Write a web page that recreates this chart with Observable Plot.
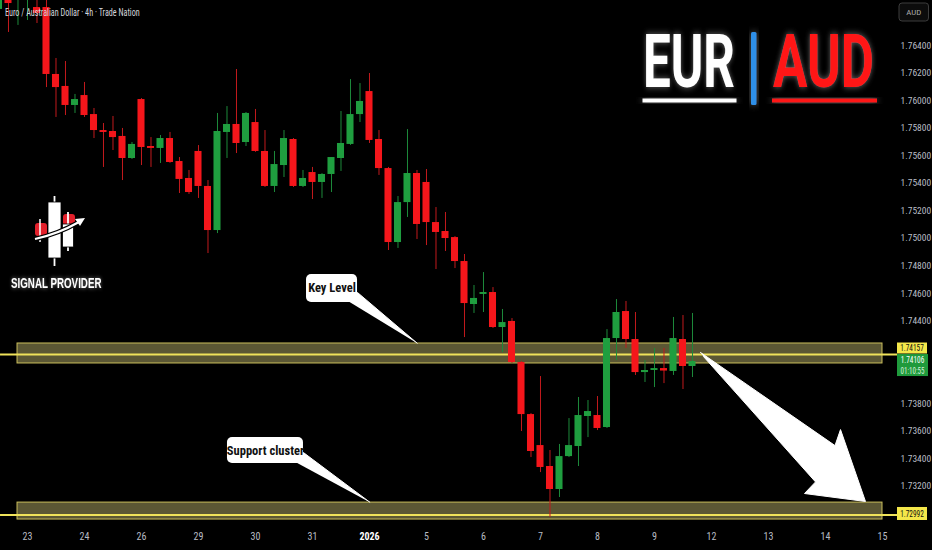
<!DOCTYPE html>
<html><head><meta charset="utf-8">
<script src="https://cdn.jsdelivr.net/npm/d3@7"></script>
<script src="https://cdn.jsdelivr.net/npm/@observablehq/plot@0.6"></script>
<style>html,body{margin:0;padding:0;background:#000;overflow:hidden}</style>
</head><body><div id="chart"></div>
<script>
// ---- data (4h candles, slot index 0 = first candle of Dec 23) ----
const firstSlot = -3;
const opens = [1.76662,1.76800,1.76763,1.76749,1.76676,1.76676,1.76190,1.76103,1.75965,1.76037,1.75899,1.75783,1.75776,1.75740,1.75580,1.76008,1.75667,1.75653,1.75725,1.75558,1.75435,1.75631,1.75377,1.75057,1.75769,1.75827,1.75696,1.75841,1.75631,1.75377,1.75529,1.75718,1.75377,1.75478,1.75406,1.75464,1.75580,1.75682,1.75899,1.76066,1.75718,1.75507,1.74970,1.75260,1.75471,1.75406,1.75115,1.75050,1.75006,1.74832,1.74520,1.74593,1.74607,1.74353,1.74397,1.74099,1.73721,1.73496,1.73344,1.73177,1.73416,1.73489,1.73707,1.73714,1.73627,1.74273,1.74469,1.74266,1.74026,1.74041,1.74055,1.74034,1.74266,1.74070];
const highs = [1.76908,1.76836,1.76872,1.76858,1.76763,1.76727,1.76306,1.76284,1.76045,1.76132,1.75943,1.75834,1.75885,1.75798,1.75696,1.76015,1.75732,1.75747,1.75769,1.75587,1.75493,1.75674,1.75420,1.75907,1.75957,1.76226,1.75914,1.75936,1.75783,1.75631,1.75783,1.75725,1.75493,1.75515,1.75470,1.75587,1.75921,1.76153,1.76124,1.76197,1.75783,1.75515,1.75304,1.75790,1.75493,1.75500,1.75224,1.75188,1.75013,1.74883,1.74658,1.74752,1.74643,1.74484,1.74418,1.74106,1.73728,1.73997,1.73460,1.73504,1.73692,1.73845,1.73823,1.73852,1.74338,1.74556,1.74542,1.74462,1.74113,1.74201,1.74201,1.74426,1.74440,1.74455];
const lows = [1.76640,1.76495,1.76546,1.76582,1.76560,1.76095,1.75878,1.75892,1.75907,1.75878,1.75725,1.75515,1.75638,1.75420,1.75573,1.75529,1.75515,1.75544,1.75545,1.75326,1.75319,1.75290,1.74890,1.75035,1.75580,1.75616,1.75667,1.75625,1.75370,1.75333,1.75442,1.75370,1.75369,1.75282,1.75290,1.75333,1.75486,1.75675,1.75841,1.75689,1.75457,1.74912,1.74927,1.75152,1.74992,1.74948,1.74774,1.74905,1.74781,1.74280,1.74455,1.74462,1.74346,1.74171,1.74092,1.73598,1.73409,1.73300,1.72974,1.73119,1.73409,1.73344,1.73554,1.73605,1.73620,1.74113,1.74201,1.74005,1.73954,1.73917,1.73946,1.74005,1.73903,1.73990];
const closes = [1.76872,1.76705,1.76836,1.76814,1.76633,1.76190,1.76095,1.75965,1.76008,1.75892,1.75783,1.75769,1.75732,1.75580,1.75682,1.75660,1.75653,1.75725,1.75551,1.75428,1.75333,1.75377,1.75057,1.75776,1.75827,1.75689,1.75907,1.75631,1.75377,1.75536,1.75725,1.75377,1.75435,1.75406,1.75464,1.75587,1.75689,1.75899,1.75994,1.75711,1.75507,1.74970,1.75260,1.75471,1.75101,1.75115,1.75043,1.74999,1.74832,1.74527,1.74564,1.74607,1.74353,1.74389,1.74099,1.73721,1.73453,1.73337,1.73177,1.73416,1.73496,1.73714,1.73743,1.73620,1.74273,1.74462,1.74266,1.74026,1.74041,1.74055,1.74037,1.74273,1.74070,1.74106];

const dayLabels = ["23","24","26","29","30","31","2026","5","6","7","8","9","12","13","14","15"];
const daySlots  = [0,6,12,18,24,30,36,42,48,54,60,66,72,78,84,90];
const priceTicks = [1.764,1.762,1.760,1.758,1.756,1.754,1.752,1.750,1.748,1.746,1.744,1.738,1.736,1.734,1.732];

// zones & annotations (slot / price units)
const zoneNames   = ["key","support"];
const zoneLevels  = [1.74157, 1.72992];
const zoneTops    = [1.74237, 1.73082];
const zoneBottoms = [1.74092, 1.72959];
const zoneStart = -1.05, zoneEnd = 90.0, lineStart = -2.84, lineEnd = 91.58;

const calloutLabels = ["Key Level","Support cluster"];
const calloutX1 = [29.37, 21.05], calloutX2 = [34.74, 29.05];
const calloutTop = [1.74738, 1.73554], calloutBottom = [1.74535, 1.73366];
const calloutTails = [
  [[33.47,1.74556],[34.74,1.74607],[41.02,1.74239]],
  [[28.10,1.73380],[29.05,1.73445],[36.03,1.73085]]
];
const arrowShape = [[70.84,1.74172],[85.00,1.73496],[85.58,1.73612],[88.21,1.73090],[81.79,1.73148],[82.95,1.73232],[71.16,1.74142]];

const currentPrice = 1.74106, countdown = "01:10:55";

// ---- build ----
const RED = "#f5161b", GREEN = "#1f9e3f";
const candles = opens.map((o,k)=>({i: firstSlot+k, open:o, high:highs[k], low:lows[k], close:closes[k]}));
const zones = zoneNames.map((n,k)=>({name:n, level:zoneLevels[k], top:zoneTops[k], bottom:zoneBottoms[k], x1:zoneStart, x2:zoneEnd, l1:lineStart, l2:lineEnd}));
const callouts = calloutLabels.map((t,k)=>({label:t, x1:calloutX1[k], x2:calloutX2[k], top:calloutTop[k], bottom:calloutBottom[k]}));
const tailPts = calloutTails.flatMap((pts,k)=>pts.map(p=>({id:k, i:p[0], p:p[1]})));
const arrowPts = arrowShape.map(p=>({id:"a", i:p[0], p:p[1]}));
const days = daySlots.map((s,k)=>({i:s, label:dayLabels[k]}));

const FONT = "'Liberation Sans Narrow','Roboto Condensed','DejaVu Sans Condensed','Liberation Sans',sans-serif";

const chart = Plot.plot({
  width: 932, height: 550,
  marginTop: 0, marginBottom: 30, marginLeft: 0, marginRight: 44,
  style: {background: "#000", fontFamily: FONT, overflow: "visible"},
  x: {domain: [-2.8421, 90.6316], axis: null},
  y: {domain: [1.72952, 1.76727], axis: null},
  color: {type: "identity"},
  marks: [
    Plot.rect(zones, {x1:"x1", x2:"x2", y1:"bottom", y2:"top", fill:"#5b5734", stroke:"#cbbf5c", strokeWidth:1}),
    Plot.ruleY(zones, {y:"level", x1:"l1", x2:"l2", stroke:"#efe25a", strokeWidth:2}),
    Plot.ruleX(candles, {x:"i", y1:"low", y2:"high", stroke: d=> d.close>=d.open ? "#1d8a3b" : "#c21a1d", strokeWidth:1}),
    Plot.rect(candles, {x1: d=>d.i-0.37, x2: d=>d.i+0.37, y1:"open", y2:"close", fill: d=> d.close>=d.open ? GREEN : RED}),
    Plot.line(tailPts, {x:"i", y:"p", z:"id", fill:"white", stroke:"white", strokeWidth:1}),
    Plot.rect(callouts, {x1:"x1", x2:"x2", y1:"bottom", y2:"top", fill:"white", rx:5}),
    Plot.text(callouts, {x: d=>(d.x1+d.x2)/2, y: d=>(d.top+d.bottom)/2, text:"label", fill:"#111", fontSize:12.5, fontWeight:"bold", ariaLabel:"callout-text"}),
    Plot.line(arrowPts, {x:"i", y:"p", z:"id", fill:"white", stroke:"white", strokeWidth:1, strokeLinejoin:"round"}),
    Plot.text(days.filter(d=>d.label!=="2026"), {x:"i", text:"label", frameAnchor:"bottom", dy:19, fill:"#b8bcc4", fontSize:10, ariaLabel:"xtick"}),
    Plot.text(days.filter(d=>d.label==="2026"), {x:"i", text:"label", frameAnchor:"bottom", dy:19, fill:"#ffffff", fontSize:10, fontWeight:"bold", ariaLabel:"xtick2026"}),
    Plot.text(priceTicks, {y: d=>d, text: d=>d.toFixed(5), frameAnchor:"right", dx:12, textAnchor:"start", fill:"#b8bcc4", fontSize:9.5, ariaLabel:"ytick"})
  ]
});
document.getElementById("chart").appendChild(chart);

const svg = d3.select(chart);
const ys = chart.scale("y");
function squash(sel, fn){ sel.each(function(){ const w=this.getComputedTextLength(); this.setAttribute("textLength", fn(w,this)); this.setAttribute("lengthAdjust","spacingAndGlyphs"); }); }
// horizontally scale a text (anchored at its left baseline) to a target width
function fitX(node, x, y, target){ const w = node.getComputedTextLength(); node.setAttribute("x",0); node.setAttribute("y",0); node.setAttribute("transform", `translate(${x},${y}) scale(${(target/w).toFixed(4)},1)`); }

squash(svg.selectAll('g[aria-label="ytick"] text'), ()=>23.5);
squash(svg.selectAll('g[aria-label="xtick"] text'), (w,el)=> el.textContent.length===1 ? 4.2 : 8.3);
squash(svg.selectAll('g[aria-label="xtick2026"] text'), ()=>15);
squash(svg.selectAll('g[aria-label="callout-text"] text'), (w,el)=> el.textContent==="Key Level" ? 41 : 64);

const defs = svg.append("defs");
const f1 = defs.append("filter").attr("id","glowGray").attr("x","-30%").attr("y","-30%").attr("width","160%").attr("height","160%");
f1.append("feDropShadow").attr("dx",0).attr("dy",0).attr("stdDeviation",3.5).attr("flood-color","#8a8a8a").attr("flood-opacity",0.75);
const f2 = defs.append("filter").attr("id","glowWhite").attr("x","-30%").attr("y","-60%").attr("width","160%").attr("height","220%");
f2.append("feDropShadow").attr("dx",0).attr("dy",0).attr("stdDeviation",2).attr("flood-color","#ffffff").attr("flood-opacity",0.45);

const ov = svg.append("g").attr("font-family", FONT).attr("text-anchor","start");

// price labels on the right axis
const yKey = ys.apply(zoneLevels[0]), ySup = ys.apply(zoneLevels[1]), yCur = ys.apply(currentPrice);
const plab = ov.append("g").attr("aria-label","price-labels");
plab.append("rect").attr("x",897).attr("y",yKey-11.5).attr("width",30).attr("height",11).attr("fill","#f4e74a");
plab.append("text").attr("x",912).attr("y",yKey-6).attr("dy","0.35em").attr("text-anchor","middle").attr("font-size",9).attr("fill","#111").text(zoneLevels[0].toFixed(5));
plab.append("rect").attr("x",897).attr("y",yCur-7).attr("width",31).attr("height",22).attr("fill","#1f9a3c");
plab.append("text").attr("x",912.5).attr("y",yCur-1.5).attr("dy","0.35em").attr("text-anchor","middle").attr("font-size",9).attr("fill","#ffffff").text(currentPrice.toFixed(5));
plab.append("text").attr("x",912.5).attr("y",yCur+9.5).attr("dy","0.35em").attr("text-anchor","middle").attr("font-size",8.5).attr("fill","#d8f0dc").text(countdown);
plab.append("rect").attr("x",897).attr("y",ySup-7.5).attr("width",30).attr("height",13).attr("fill","#f4e74a");
plab.append("text").attr("x",912).attr("y",ySup-1).attr("dy","0.35em").attr("text-anchor","middle").attr("font-size",9).attr("fill","#111").text(zoneLevels[1].toFixed(5));
squash(plab.selectAll("text"), (w,el)=> el.textContent===countdown ? 24 : 23.5);

// currency button
ov.append("rect").attr("x",899).attr("y",3).attr("width",29.5).attr("height",18).attr("rx",3).attr("fill","#0c0c0c").attr("stroke","#3c3c3c");
ov.append("text").attr("x",913.7).attr("y",12.5).attr("dy","0.35em").attr("text-anchor","middle").attr("font-size",8).attr("fill","#a8a8a8").attr("textLength",15).attr("lengthAdjust","spacingAndGlyphs").text("AUD");

// chart title
const title = ov.append("text").attr("font-size",10).attr("fill","#d6d8de").text("Euro / Australian Dollar · 4h · Trade Nation");
fitX(title.node(), 5, 16, 135);

// EUR | AUD badge
const badge = ov.append("g").attr("font-family","Roboto,'Open Sans','Liberation Sans',sans-serif").attr("font-weight","bold");
const eur = badge.append("text").attr("font-size",74).attr("fill","#ffffff").attr("filter","url(#glowGray)").text("EUR");
fitX(eur.node(), 643, 87, 92);
badge.append("rect").attr("x",642.5).attr("y",98.5).attr("width",94).attr("height",4).attr("fill","#ffffff").attr("filter","url(#glowGray)");
badge.append("rect").attr("x",751).attr("y",32).attr("width",5.5).attr("height",73).attr("rx",1.5).attr("fill","#2f8fe8").attr("filter","url(#glowGray)");
const aud = badge.append("text").attr("font-size",74).attr("fill","#ff1616").attr("filter","url(#glowGray)").text("AUD");
fitX(aud.node(), 773, 87, 101);
badge.append("rect").attr("x",772).attr("y",98.5).attr("width",105).attr("height",4).attr("fill","#ff1616").attr("filter","url(#glowGray)");

// SIGNAL PROVIDER logo
const logo = ov.append("g");
logo.append("rect").attr("x",35).attr("y",223).attr("width",12).attr("height",13).attr("rx",3).attr("fill","#e3202b");
logo.append("line").attr("x1",40).attr("x2",40).attr("y1",219).attr("y2",242).attr("stroke","#ffffff").attr("stroke-width",1.5);
logo.append("rect").attr("x",63).attr("y",214).attr("width",12).attr("height",12).attr("rx",3).attr("fill","#e3202b");
logo.append("line").attr("x1",54.5).attr("x2",54.5).attr("y1",196).attr("y2",266).attr("stroke","#ffffff").attr("stroke-width",1.8);
logo.append("rect").attr("x",48).attr("y",202).attr("width",13).attr("height",56).attr("fill","#ffffff").attr("stroke","#000").attr("stroke-width",0.8);
logo.append("line").attr("x1",68).attr("x2",68).attr("y1",212).attr("y2",251).attr("stroke","#ffffff").attr("stroke-width",1.8);
logo.append("rect").attr("x",62.5).attr("y",224).attr("width",11).attr("height",23).attr("fill","#ffffff").attr("stroke","#000").attr("stroke-width",0.8);
logo.append("path").attr("d","M35,239 Q58,234 79,222").attr("fill","none").attr("stroke","#000").attr("stroke-width",4.5);
logo.append("path").attr("d","M35,239 Q58,234 79,222").attr("fill","none").attr("stroke","#ffffff").attr("stroke-width",2.2);
logo.append("path").attr("d","M85,218 L75,219 L80,226 Z").attr("fill","#ffffff");
const sp = logo.append("text").attr("font-size",14.5).attr("font-weight","bold").attr("font-family","'Liberation Sans','Roboto',sans-serif").attr("fill","#ffffff").attr("filter","url(#glowWhite)").text("SIGNAL PROVIDER");
fitX(sp.node(), 11, 287.5, 90.5);
</script></body></html>
